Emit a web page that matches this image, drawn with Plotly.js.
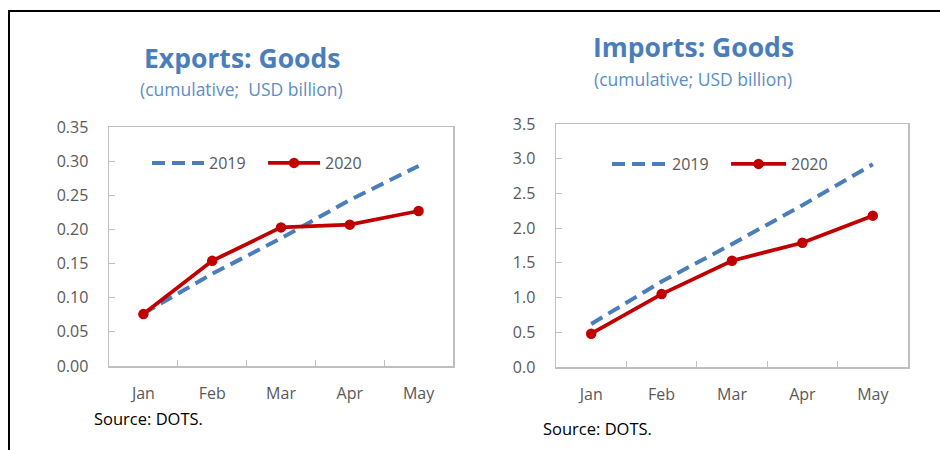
<!DOCTYPE html>
<html><head><meta charset="utf-8">
<script src="https://cdn.plot.ly/plotly-3.0.1.min.js"></script>
<style>html,body{margin:0;padding:0;background:#fff}#c{width:940px;height:450px}</style>
</head><body><div id="c"></div>
<script>
const months = ["Jan","Feb","Mar","Apr","May"];
const exports2019 = [0.077, 0.135, 0.187, 0.243, 0.293];
const exports2020 = [0.076, 0.154, 0.203, 0.207, 0.227];
const imports2019 = [0.62, 1.23, 1.77, 2.33, 2.92];
const imports2020 = [0.48, 1.05, 1.53, 1.79, 2.18];
const exportTicks = [0,0.05,0.10,0.15,0.20,0.25,0.30,0.35];
const importTicks = [0,0.5,1.0,1.5,2.0,2.5,3.0,3.5];
const seriesNames = ["2019","2020"];

const BLUE = "#4A7EBB", RED = "#C00000", FONT = "Open Sans, Noto Sans, sans-serif";
function s19(y, xa, ya, lg, pad){return {x:months,y:y,xaxis:xa,yaxis:ya,type:"scatter",mode:"lines",name:seriesNames[0]+pad,legend:lg,
  line:{color:BLUE,width:4,dash:"13px,7px"}};}
function s20(y, xa, ya, lg){return {x:months,y:y,xaxis:xa,yaxis:ya,type:"scatter",mode:"lines+markers",name:seriesNames[1],legend:lg,
  line:{color:RED,width:3.8},marker:{color:RED,size:10.5}};}
const data = [
  s19(exports2019,"x","y","legend","\u00a0\u00a0\u00a0"), s20(exports2020,"x","y","legend"),
  s19(imports2019,"x2","y2","legend2","\u00a0\u00a0\u00a0"), s20(imports2020,"x2","y2","legend2")
];
const W=940,H=450;
const px=v=>v/W, py=v=>1-v/H;
const xbase = {type:"category",range:[-0.5,4.5],showline:true,mirror:true,linecolor:"#BFBFBF",linewidth:1.5,
  ticks:"inside",tickson:"boundaries",ticklen:6,tickcolor:"#BFBFBF",showgrid:false,zeroline:false,
  tickfont:{family:FONT,size:16,color:"#595959"},ticklabelstandoff:12,fixedrange:true};
const ybase = {showline:true,mirror:true,linecolor:"#BFBFBF",linewidth:1.5,ticks:"inside",ticklen:6,tickcolor:"#BFBFBF",
  showgrid:false,zeroline:false,tickfont:{family:FONT,size:16,color:"#595959"},ticklabelstandoff:16,fixedrange:true};
const legbase = {orientation:"h",font:{family:FONT,size:16,color:"#595959"},bgcolor:"rgba(0,0,0,0)",
  xanchor:"left",yanchor:"middle",tracegroupgap:0,itemclick:false};
function ann(text,x,y,size,color,xanchor){return {text:text,x:px(x),y:py(y),xref:"paper",yref:"paper",xanchor:xanchor||"center",yanchor:"middle",
  showarrow:false,font:{family:FONT,size:size,color:color}};}
const layout = {
  width:W,height:H,margin:{l:0,r:0,t:0,b:0},paper_bgcolor:"#fff",plot_bgcolor:"#fff",
  font:{family:FONT},
  xaxis:Object.assign({},xbase,{domain:[px(109),px(453)],anchor:"y"}),
  yaxis:Object.assign({},ybase,{domain:[py(366),py(127)],anchor:"x",range:[0,0.35],tickvals:exportTicks,ticktext:exportTicks.map(v=>v.toFixed(2))}),
  xaxis2:Object.assign({},xbase,{domain:[px(556),px(908)],anchor:"y2"}),
  yaxis2:Object.assign({},ybase,{domain:[py(367),py(124)],anchor:"x2",range:[0,3.5],tickvals:importTicks,ticktext:importTicks.map(v=>v.toFixed(1))}),
  legend:Object.assign({},legbase,{x:px(147),y:py(163),itemwidth:52}),
  legend2:Object.assign({},legbase,{x:px(607),y:py(164),itemwidth:55}),
  annotations:[
    ann("<b>Exports: Goods</b>",242,58,26.5,"#4A7EBB"),
    ann("(cumulative;  USD billion)",242,89,17.5,"#5B8DC8"),
    ann("<b>Imports: Goods</b>",693,47,26.5,"#4A7EBB"),
    ann("(cumulative; USD billion)",693,79,17.5,"#5B8DC8"),
    ann("Source: DOTS.",92,418,16.5,"#000","left"),
    ann("Source: DOTS.",541,428,16.5,"#000","left")
  ],
  shapes:[
    {type:"line",xref:"paper",yref:"paper",x0:px(8),x1:1,y0:py(11),y1:py(11),line:{color:"#000",width:2}},
    {type:"line",xref:"paper",yref:"paper",x0:px(9),x1:px(9),y0:py(10),y1:0,line:{color:"#000",width:2}}
  ]
};
Plotly.newPlot("c",data,layout,{displayModeBar:false,staticPlot:true});
</script></body></html>
